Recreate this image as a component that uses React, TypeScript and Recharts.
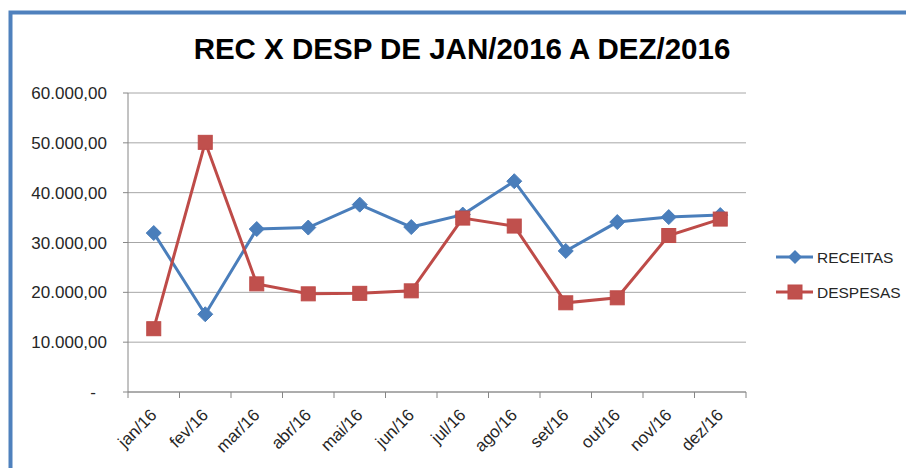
import React from "react";
import { LineChart, Line, XAxis, YAxis, CartesianGrid } from "recharts";

const months = ["jan/16", "fev/16", "mar/16", "abr/16", "mai/16", "jun/16", "jul/16", "ago/16", "set/16", "out/16", "nov/16", "dez/16"];
const receitas = [31900, 15600, 32700, 33000, 37600, 33100, 35600, 42300, 28300, 34100, 35100, 35500];
const despesas = [12700, 50100, 21700, 19700, 19800, 20300, 34900, 33300, 17900, 18900, 31400, 34700];
const yTicks = [0, 10000, 20000, 30000, 40000, 50000, 60000];
const seriesNames = ["RECEITAS", "DESPESAS"];
const titleText = "REC X DESP DE JAN/2016 A DEZ/2016";

const data = months.map((m, i) => ({ month: m, RECEITAS: receitas[i], DESPESAS: despesas[i] }));

const W = 906;
const H = 468;
const PLOT_LEFT = 128;
const PLOT_RIGHT = 746;
const PLOT_TOP = 93;
const PLOT_BOTTOM = 392;
const BAND = (PLOT_RIGHT - PLOT_LEFT) / months.length;

const BLUE = "#4A7EBB";
const RED = "#BE4B48";
const AXIS = "#868686";
const GRID = "#A6A6A6";
const FONT = "'Liberation Sans', Arial, sans-serif";

const fmt = (v: number) => {
  if (v === 0) return "-";
  const s = Math.round(v).toString().replace(/\B(?=(\d{3})+(?!\d))/g, ".");
  return s + ",00";
};

const YTick = (props: any) => {
  const { x, y, payload } = props;
  const v = payload.value;
  return (
    <text x={v === 0 ? x - 11 : x} y={y} dy="0.355em" textAnchor="end" fontSize={17} fontFamily={FONT} fill="#262626">
      {fmt(v)}
    </text>
  );
};

const XTick = (props: any) => {
  const { x, y, payload, index } = props;
  const tx = x + 4;
  const ty = y + 24;
  const left = x - BAND / 2;
  const right = x + BAND / 2;
  return (
    <g>
      <line x1={left} y1={y} x2={left} y2={y + 6} stroke={AXIS} strokeWidth={1} />
      {index === months.length - 1 && <line x1={right} y1={y} x2={right} y2={y + 6} stroke={AXIS} strokeWidth={1} />}
      <text x={tx} y={ty} textAnchor="end" transform={`rotate(-45 ${tx} ${ty})`} fontSize={17} fontFamily={FONT} fill="#262626">
        {payload.value}
      </text>
    </g>
  );
};

const Diamond = (props: any) => {
  const { cx, cy, index } = props;
  if (cx == null || cy == null) return null;
  const r = 7.5;
  return (
    <polygon key={`d-${index}`} points={`${cx},${cy - r} ${cx + r},${cy} ${cx},${cy + r} ${cx - r},${cy}`} fill={BLUE} stroke={BLUE} strokeWidth={1} />
  );
};

const Square = (props: any) => {
  const { cx, cy, index } = props;
  if (cx == null || cy == null) return null;
  const s = 14;
  return <rect key={`s-${index}`} x={cx - s / 2} y={cy - s / 2} width={s} height={s} fill="#C0504D" stroke={RED} strokeWidth={1} />;
};

export default function App() {
  return (
    <div style={{ position: "absolute", left: 0, top: 0, width: W, height: H, background: "#fff", overflow: "hidden" }}>
      <LineChart
        width={W}
        height={H}
        data={data}
        margin={{ top: PLOT_TOP, right: W - PLOT_RIGHT, bottom: 0, left: 0 }}
      >
        <CartesianGrid vertical={false} stroke={GRID} strokeWidth={1} />
        <XAxis
          dataKey="month"
          height={H - PLOT_BOTTOM}
          padding={{ left: BAND / 2, right: BAND / 2 }}
          axisLine={{ stroke: AXIS }}
          tickLine={false}
          tickSize={0}
          tickMargin={0}
          interval={0}
          tick={<XTick />}
        />
        <YAxis
          width={PLOT_LEFT}
          domain={[0, 60000]}
          ticks={yTicks}
          interval={0}
          axisLine={{ stroke: AXIS }}
          tickLine={{ stroke: AXIS }}
          tickSize={5}
          tickMargin={16}
          tick={<YTick />}
        />
        <Line dataKey="RECEITAS" name={seriesNames[0]} stroke={BLUE} strokeWidth={3} dot={Diamond} activeDot={false} isAnimationActive={false} />
        <Line dataKey="DESPESAS" name={seriesNames[1]} stroke={RED} strokeWidth={3} dot={Square} activeDot={false} isAnimationActive={false} />
      </LineChart>
      <svg width={W} height={H} style={{ position: "absolute", left: 0, top: 0, pointerEvents: "none" }}>
        <rect x={10.5} y={12.5} width={W + 20} height={H + 20} fill="none" stroke="#4F81BD" strokeWidth={4} />
        <text x={462} y={59} textAnchor="middle" fontSize={29.5} fontWeight="bold" fontFamily={FONT} fill="#000">
          {titleText}
        </text>
        <g>
          <line x1={776} y1={257} x2={813} y2={257} stroke={BLUE} strokeWidth={3} />
          <polygon points="795,250 802,257 795,264 788,257" fill={BLUE} />
          <text x={817} y={257} dy="0.355em" fontSize={15.5} fontFamily={FONT} fill="#262626">{seriesNames[0]}</text>
          <line x1={776} y1={292} x2={813} y2={292} stroke={RED} strokeWidth={3} />
          <rect x={788} y={285} width={14} height={14} fill="#C0504D" stroke={RED} />
          <text x={817} y={292} dy="0.355em" fontSize={15.5} fontFamily={FONT} fill="#262626">{seriesNames[1]}</text>
        </g>
      </svg>
    </div>
  );
}
